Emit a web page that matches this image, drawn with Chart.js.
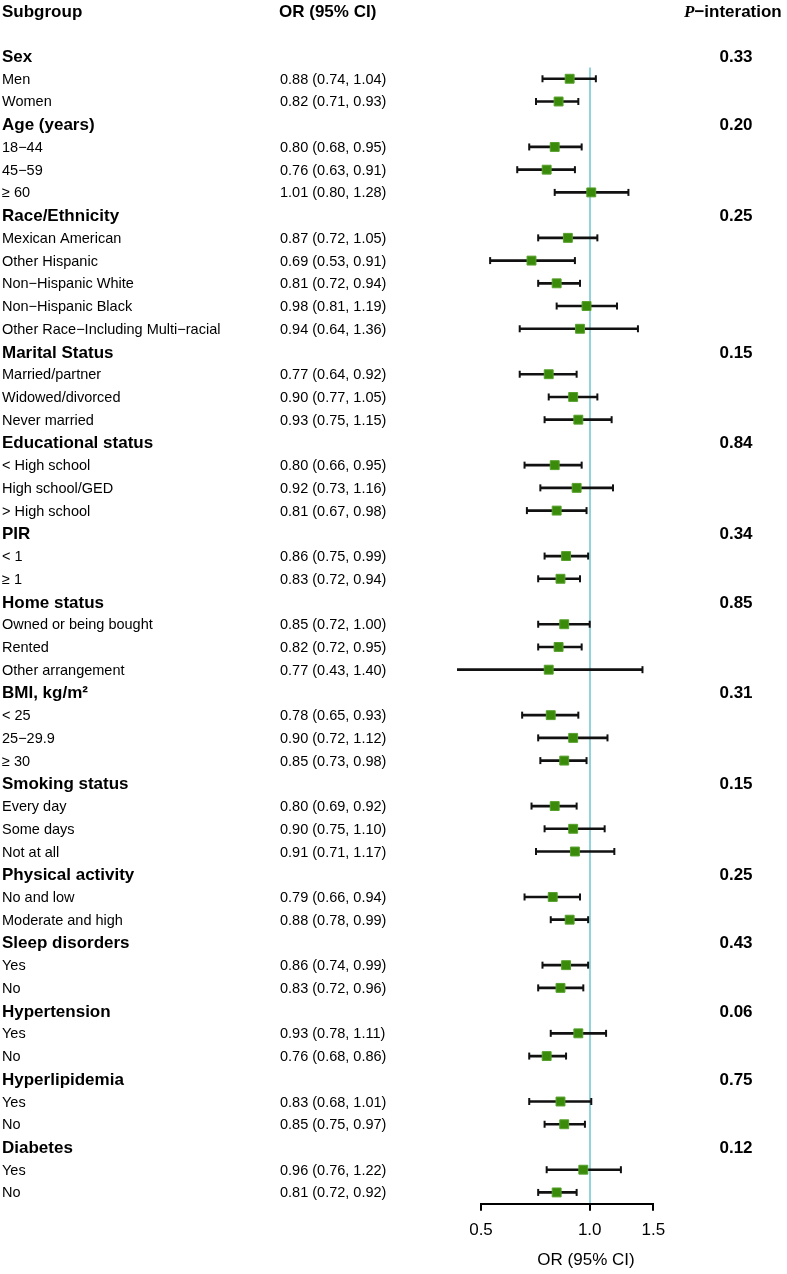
<!DOCTYPE html>
<html>
<head>
<meta charset="utf-8">
<script src="https://cdn.jsdelivr.net/npm/chart.js@4.4.0/dist/chart.umd.min.js"></script>
<style>
  html, body { margin: 0; padding: 0; background: #fff; }
  #wrap { width: 787px; height: 1274px; }
</style>
</head>
<body>
<div id="wrap"><canvas id="forest" width="787" height="1274"></canvas></div>
<script>
// heading rows with their interaction p-values
var groups = ['Sex', 'Age (years)', 'Race/Ethnicity', 'Marital Status', 'Educational status', 'PIR',
  'Home status', 'BMI, kg/m\u00b2', 'Smoking status', 'Physical activity', 'Sleep disorders',
  'Hypertension', 'Hyperlipidemia', 'Diabetes'];
var pInteraction = ['0.33', '0.20', '0.25', '0.15', '0.84', '0.34', '0.85', '0.31', '0.15', '0.25',
  '0.43', '0.06', '0.75', '0.12'];
var groupSizes = [2, 3, 5, 3, 3, 2, 3, 3, 3, 2, 2, 2, 2, 2];

// subgroup rows
var subgroups = ['Men', 'Women',
  '18\u221244', '45\u221259', '\u2265 60',
  'Mexican American', 'Other Hispanic', 'Non\u2212Hispanic White', 'Non\u2212Hispanic Black',
  'Other Race\u2212Including Multi\u2212racial',
  'Married/partner', 'Widowed/divorced', 'Never married',
  '< High school', 'High school/GED', '> High school',
  '< 1', '\u2265 1',
  'Owned or being bought', 'Rented', 'Other arrangement',
  '< 25', '25\u221229.9', '\u2265 30',
  'Every day', 'Some days', 'Not at all',
  'No and low', 'Moderate and high',
  'Yes', 'No',
  'Yes', 'No',
  'Yes', 'No',
  'Yes', 'No'];
var orValues = [0.88, 0.82, 0.80, 0.76, 1.01, 0.87, 0.69, 0.81, 0.98, 0.94, 0.77, 0.90, 0.93,
  0.80, 0.92, 0.81, 0.86, 0.83, 0.85, 0.82, 0.77, 0.78, 0.90, 0.85, 0.80, 0.90, 0.91,
  0.79, 0.88, 0.86, 0.83, 0.93, 0.76, 0.83, 0.85, 0.96, 0.81];
var lowerCI = [0.74, 0.71, 0.68, 0.63, 0.80, 0.72, 0.53, 0.72, 0.81, 0.64, 0.64, 0.77, 0.75,
  0.66, 0.73, 0.67, 0.75, 0.72, 0.72, 0.72, 0.43, 0.65, 0.72, 0.73, 0.69, 0.75, 0.71,
  0.66, 0.78, 0.74, 0.72, 0.78, 0.68, 0.68, 0.75, 0.76, 0.72];
var upperCI = [1.04, 0.93, 0.95, 0.91, 1.28, 1.05, 0.91, 0.94, 1.19, 1.36, 0.92, 1.05, 1.15,
  0.95, 1.16, 0.98, 0.99, 0.94, 1.00, 0.95, 1.40, 0.93, 1.12, 0.98, 0.92, 1.10, 1.17,
  0.94, 0.99, 0.99, 0.96, 1.11, 0.86, 1.01, 0.97, 1.22, 0.92];
var xTicks = [0.5, 1.0, 1.5];

// each heading takes one row, then its subgroups follow
var groupRows = [], subRows = [];
var row = 0;
for (var g = 0; g < groups.length; g++) {
  groupRows.push(row);
  row++;
  for (var k = 0; k < groupSizes[g]; k++) {
    subRows.push(row);
    row++;
  }
}

var font = '"Liberation Sans", Arial, sans-serif';
var refColor = '#93d3dc';

// the table text left and right of the plot
var tablePlugin = {
  id: 'table',
  afterDraw: function (chart) {
    var ctx = chart.ctx, y = chart.scales.y;
    ctx.save();
    ctx.fillStyle = '#000';
    ctx.textBaseline = 'alphabetic';
    ctx.textAlign = 'left';
    ctx.font = 'bold 17px ' + font;
    ctx.fillText('Subgroup', 2, 17);
    ctx.fillText('OR (95% CI)', 279, 17);
    ctx.font = 'italic bold 17px "Liberation Serif", serif';
    ctx.fillText('P', 684, 17);
    var pw = ctx.measureText('P').width;
    ctx.font = 'bold 17px ' + font;
    ctx.fillText('\u2212interation', 684 + pw, 17);

    groups.forEach(function (name, i) {
      var py = y.getPixelForValue(groupRows[i]) + 6;
      ctx.textAlign = 'left';
      ctx.fillText(name, 2, py);
      ctx.textAlign = 'center';
      ctx.fillText(pInteraction[i], 736, py);
    });

    ctx.font = '14.5px ' + font;
    ctx.textAlign = 'left';
    subgroups.forEach(function (name, i) {
      var py = y.getPixelForValue(subRows[i]) + 5;
      ctx.fillText(name, 2, py);
      ctx.fillText(orValues[i].toFixed(2) + ' (' + lowerCI[i].toFixed(2) + ', ' +
        upperCI[i].toFixed(2) + ')', 280, py);
    });

    ctx.font = '17px ' + font;
    ctx.textAlign = 'center';
    ctx.fillText('OR (95% CI)', 586, 1265);
    ctx.restore();
  }
};

var ciBars = subRows.map(function (r, i) { return { x: [lowerCI[i], upperCI[i]], y: r }; });
var caps = [];
subRows.forEach(function (r, i) {
  caps.push({ x: lowerCI[i], y: r });
  caps.push({ x: upperCI[i], y: r });
});
var points = subRows.map(function (r, i) { return { x: orValues[i], y: r }; });

var ctx = document.getElementById('forest').getContext('2d');
var chart = new Chart(ctx, {
  type: 'scatter',
  data: {
    datasets: [
      {
        label: 'OR',
        data: points,
        pointStyle: 'rect',
        pointRadius: 6.3,
        backgroundColor: '#3b8b0b',
        borderColor: '#56a02c',
        borderWidth: 1,
        clip: false
      },
      {
        label: 'CI caps',
        data: caps,
        pointStyle: 'line',
        rotation: 90,
        pointRadius: 3.5,
        borderColor: '#111',
        borderWidth: 2,
        clip: false
      },
      {
        type: 'bar',
        label: '95% CI',
        indexAxis: 'y',
        data: ciBars,
        backgroundColor: '#111',
        barThickness: 2,
        clip: false
      }
    ]
  },
  options: {
    responsive: false,
    animation: false,
    events: [],
    layout: { padding: { left: 481, right: 133.7, top: 67.4, bottom: 24.8 } },
    plugins: { legend: { display: false }, tooltip: { enabled: false } },
    scales: {
      x: {
        type: 'logarithmic',
        min: 0.5,
        max: 1.5,
        bounds: 'data',
        offset: false,
        beginAtZero: false,
        afterBuildTicks: function (scale) {
          scale.ticks = xTicks.map(function (v) { return { value: v }; });
        },
        ticks: {
          callback: function (v) { return Number(v).toFixed(1); },
          autoSkip: false,
          maxRotation: 0,
          color: '#000',
          padding: 9,
          font: { size: 17, family: font }
        },
        grid: {
          offset: false,
          color: function (c) { return c.tick && c.tick.value === 1 ? refColor : 'rgba(0,0,0,0)'; },
          lineWidth: 2,
          tickColor: '#000',
          tickWidth: 2,
          tickLength: 7
        },
        border: { display: true, color: '#000', width: 2 }
      },
      y: {
        type: 'linear',
        min: 0.5,
        max: 50.5,
        reverse: true,
        offset: false,
        display: false,
        grid: { offset: false }
      }
    }
  },
  plugins: [tablePlugin]
});
</script>
</body>
</html>
